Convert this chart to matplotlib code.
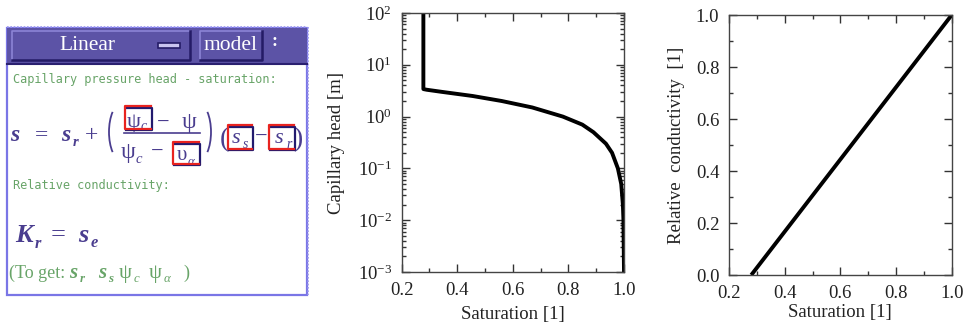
import matplotlib
matplotlib.use("Agg")
import matplotlib.pyplot as plt
from matplotlib.patches import Rectangle, Arc
from matplotlib.ticker import MultipleLocator, LogLocator, NullFormatter

plt.rcParams['font.family'] = ['Liberation Serif', 'DejaVu Serif']
plt.rcParams['mathtext.fontset'] = 'custom'
plt.rcParams['mathtext.rm'] = 'Liberation Serif'
plt.rcParams['mathtext.it'] = 'Liberation Serif:italic'

# ---- data ----
sat_head = [0.278, 0.278, 0.29, 0.345, 0.455, 0.56, 0.67, 0.78, 0.85,
            0.89, 0.935, 0.957, 0.978, 0.99, 0.996, 0.998, 1.0]
cap_head = [100.0, 3.4, 3.3, 3.0, 2.5, 2.0, 1.5, 1.0, 0.7,
            0.5, 0.3, 0.2, 0.1, 0.05, 0.02, 0.01, 0.001]
sat_cond = [0.28, 1.0]
rel_cond = [0.0, 1.0]

x_ticks = [0.2, 0.4, 0.6, 0.8, 1.0]
x_ticklabels = ['0.2', '0.4', '0.6', '0.8', '1.0']
y_ticks_cond = [0.0, 0.2, 0.4, 0.6, 0.8, 1.0]
y_ticklabels_cond = ['0.0', '0.2', '0.4', '0.6', '0.8', '1.0']

W, H = 970, 326
fig = plt.figure(figsize=(9.7, 3.26), dpi=100)

# ---------- left panel (GUI-like formula box), pixel coordinates ----------
bg = fig.add_axes([0, 0, 1, 1])
bg.set_xlim(0, W)
bg.set_ylim(H, 0)
bg.axis('off')

PURPLE = '#4a3d8f'
GREEN = '#68a468'
RED = '#e8231f'
DBLUE = '#221a6e'

bg.add_patch(Rectangle((7, 28), 300, 267, fill=False, ec='#7a76e6', lw=1.6, zorder=1))
bg.plot([7, 307], [27, 27], color='#9a96ee', lw=1.2, ls=(0, (1, 1)), zorder=1)
bg.plot([308, 308], [27, 295], color='#9a96ee', lw=1.2, ls=(0, (1, 1)), zorder=1)
bg.add_patch(Rectangle((7, 28), 300, 37, fc='#5c53a6', ec='none', zorder=2))
bg.plot([7, 307], [64, 64], color='#2a2070', lw=1.5, zorder=3)

def button(x0, x1, y0, y1):
    bg.add_patch(Rectangle((x0, y0), x1 - x0, y1 - y0, fc='#5c53a6', ec='none', zorder=3))
    bg.plot([x0, x0, x1], [y1, y0, y0], color='#8c84d6', lw=1.2, zorder=4)
    bg.plot([x0, x1, x1], [y1, y1, y0], color='#241b66', lw=1.8, zorder=4)

button(12, 190, 31, 60)
button(200, 262, 31, 60)
bg.add_patch(Rectangle((158, 43), 22, 5, fc='#c9c4f0', ec='#241b66', lw=1.2, zorder=5))
bg.text(87, 46, 'Linear', color='white', fontsize=15.5,
        ha='center', va='center', zorder=6)
bg.text(231, 46, 'model', color='white', fontsize=15.5,
        ha='center', va='center', zorder=6)
bg.text(275, 42, ':', color='white', fontsize=13, fontweight='bold',
        ha='center', va='center', zorder=6)

mono = dict(family='DejaVu Sans Mono', fontsize=8.6, color=GREEN, va='center', ha='left')
bg.text(13, 80, 'Capillary pressure head - saturation:', **mono)
bg.text(13, 185, 'Relative conductivity:', **mono)

def sym(x, y, main, sub=None, size=17, color=PURPLE, sx=10, sy=5, subsize=None,
        weight='bold', style='italic', substyle='italic'):
    bg.text(x, y, main, fontsize=size, color=color, ha='center', va='baseline',
            fontweight=weight, fontstyle=style, zorder=6)
    if sub:
        bg.text(x + sx, y + sy, sub, fontsize=subsize or size * 0.62, color=color,
                ha='center', va='baseline', fontweight=weight, fontstyle=substyle, zorder=6)

def op(x, y, s, size=17, color=PURPLE):
    bg.text(x, y, s, fontsize=size, color=color, ha='center', va='baseline', zorder=6)

def box(x0, y0, x1, y1):
    bg.plot([x0 + 1.5, x1, x1, x0 + 1.5], [y0 + 1.5, y0 + 1.5, y1, y1], color=DBLUE, lw=1.6, zorder=7)
    bg.plot([x1 - 1, x0, x0, x1 - 1], [y1 - 1, y1 - 1, y0, y0], color=RED, lw=1.6, zorder=7)

base = 141
sym(15, base, 's')
op(42, base, '=')
sym(66, base, 's', 'r')
op(92, base, '+')
# big parentheses drawn as arcs
bg.add_patch(Arc((122, 132), 26, 58, theta1=115, theta2=245, color=PURPLE, lw=1.3, zorder=6))
bg.add_patch(Arc((198, 132), 26, 58, theta1=-65, theta2=65, color=PURPLE, lw=1.3, zorder=6))
# numerator
sym(134, 127, 'ψ', 'c', size=16, weight='normal', style='normal', sx=10, sy=3)
box(125, 106, 152, 130)
op(163, 128, '−', size=16)
sym(189, 128, 'ψ', size=17, weight='normal', style='normal')
bg.plot([124, 200], [133, 133], color=PURPLE, lw=1.2, zorder=6)
# denominator
sym(128, 158, 'ψ', 'c', size=17, weight='normal', style='normal', sx=11)
op(157, 157, '−', size=16)
sym(182, 160, 'υ', 'α', size=15, weight='normal', style='normal', sx=9)
box(173, 142, 200, 165)
# (s_s - s_r)
bg.text(224, 146, '(', fontsize=20, color=PURPLE, ha='center', va='baseline', zorder=6)
sym(236, 143, 's', 's', size=16, weight='normal', sx=10)
box(228, 125, 253, 150)
op(261, 142, '−', size=16)
sym(279, 143, 's', 'r', size=16, weight='normal', sx=10)
box(269, 125, 295, 150)
bg.text(298, 146, ')', fontsize=20, color=PURPLE, ha='center', va='baseline', zorder=6)

# K_r = s_e
sym(24, 242, 'K', 'r', size=19, sx=14, sy=6)
op(58, 241, '=', size=19)
sym(83, 242, 's', 'e', size=19, sx=11, sy=5)

# (To get: ...)
bg.text(9, 278, '(To get:', fontsize=13, color=GREEN, ha='left', va='baseline', zorder=6)
sym(73, 278, 's', 'r', size=15, color=GREEN, sx=9, sy=4)
sym(102, 278, 's', 's', size=15, color=GREEN, sx=9, sy=4)
sym(125, 278, 'ψ', 'c', size=15, color=GREEN, weight='normal', style='normal', sx=11, sy=4)
sym(155, 278, 'ψ', 'α', size=15, color=GREEN, weight='normal', style='normal', sx=12, sy=4)
bg.text(186, 278, ')', fontsize=13, color=GREEN, ha='center', va='baseline', zorder=6)

# ---------- plot styling helper ----------
TXT = '#222222'
FS = 13.5
def style_axes(ax):
    ax.tick_params(which='both', direction='in', top=True, right=True, colors='#333333',
                   labelcolor=TXT, labelsize=FS, width=1.0, pad=7)
    ax.tick_params(which='major', length=6)
    ax.tick_params(which='minor', length=3)
    for sp in ax.spines.values():
        sp.set_color('#444444')
        sp.set_linewidth(1.0)

# ---------- middle: capillary head vs saturation ----------
ax1 = fig.add_axes([401.7 / W, (H - 272) / H, (624 - 401.7) / W, (272 - 13) / H])
ax1.plot(sat_head, cap_head, color='black', lw=2.8, solid_capstyle='butt')
ax1.set_yscale('log')
ax1.set_xlim(0.2, 1.0)
ax1.set_ylim(1e-3, 1e2)
ax1.set_xticks(x_ticks)
ax1.set_xticklabels(x_ticklabels)
ax1.xaxis.set_minor_locator(MultipleLocator(0.1))
ax1.yaxis.set_major_locator(LogLocator(base=10, numticks=10))
ax1.yaxis.set_minor_locator(LogLocator(base=10, subs=range(2, 10), numticks=20))
ax1.yaxis.set_minor_formatter(NullFormatter())
style_axes(ax1)
ax1.set_xlabel('Saturation [1]', fontsize=FS, color=TXT, labelpad=5)
ax1.set_ylabel('Capillary head [m]', fontsize=FS, color=TXT, labelpad=9)

# ---------- right: relative conductivity vs saturation ----------
ax2 = fig.add_axes([729 / W, (H - 275) / H, (951.7 - 729) / W, (275 - 15) / H])
ax2.plot(sat_cond, rel_cond, color='black', lw=2.8, solid_capstyle='butt')
ax2.set_xlim(0.2, 1.0)
ax2.set_ylim(0.0, 1.0)
ax2.set_xticks(x_ticks)
ax2.set_xticklabels(x_ticklabels)
ax2.set_yticks(y_ticks_cond)
ax2.set_yticklabels(y_ticklabels_cond)
ax2.xaxis.set_minor_locator(MultipleLocator(0.1))
ax2.yaxis.set_minor_locator(MultipleLocator(0.1))
style_axes(ax2)
ax2.set_xlabel('Saturation [1]', fontsize=FS, color=TXT, labelpad=2)
ax2.set_ylabel('Relative  conductivity  [1]', fontsize=FS, color=TXT, labelpad=8)

fig.savefig('out.png', dpi=100)
